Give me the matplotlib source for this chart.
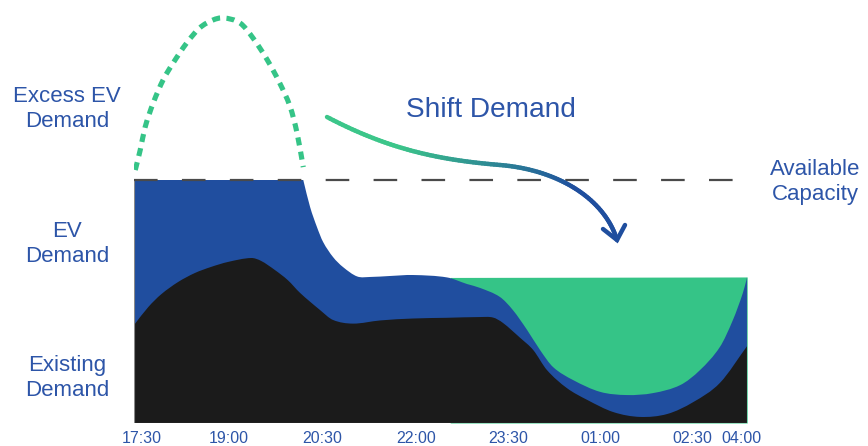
import numpy as np
import matplotlib
matplotlib.use("Agg")
import matplotlib.pyplot as plt
from matplotlib.collections import LineCollection
from matplotlib.colors import to_rgb
from matplotlib.path import Path
from matplotlib.patches import PathPatch

plt.rcParams['font.family'] = ['Liberation Sans', 'DejaVu Sans']
plt.rcParams['lines.scale_dashes'] = False

# ---- data (hours since 17:30, demand in % of available capacity) ----
exist_t = [0.0, 0.23, 0.44, 0.71, 0.98, 1.24, 1.52, 1.89, 2.05, 2.27, 2.48, 2.68, 3.00, 3.21,
           3.53, 3.97, 4.50, 5.05, 5.58, 5.79, 5.95, 6.23, 6.44, 6.66, 6.98, 7.31, 7.73, 8.16,
           8.60, 9.02, 9.45, 9.89]
exist_v = [40.3, 47.7, 53.0, 58.0, 61.7, 64.2, 66.3, 67.9, 66.7, 63.0, 58.8, 53.5, 46.5, 42.4,
           40.9, 42.2, 43.0, 43.3, 43.6, 43.4, 41.2, 35.0, 30.0, 21.8, 14.4, 9.5, 4.5, 2.5,
           3.7, 8.6, 16.5, 31.7]

ev_t = [0.0, 2.73, 2.84, 2.95, 3.05, 3.21, 3.37, 3.60, 3.81, 4.13, 4.50, 5.05, 5.37, 5.58, 5.90,
        6.11, 6.34, 6.55, 6.76, 7.08, 7.52, 7.95, 8.37, 8.81, 9.13, 9.45, 9.66, 9.82, 9.89]
ev_v = [100.0, 100.0, 88.9, 80.7, 74.5, 68.3, 64.2, 60.3, 60.1, 60.5, 60.9, 59.9, 57.2, 55.6, 51.9,
        46.5, 38.3, 30.0, 23.0, 17.7, 12.8, 11.5, 12.3, 15.6, 21.8, 31.3, 42.4, 53.5, 60.1]

shift_t = [5.10, 9.89]
shift_v = [59.9, 60.1]

excess_t = [0.02, 0.10, 0.18, 0.31, 0.47, 0.63, 0.85, 1.06, 1.27, 1.44, 1.71, 1.92, 2.15, 2.35,
            2.52, 2.63, 2.73]
excess_v = [104.1, 112.3, 121.8, 131.7, 141.2, 148.1, 156.4, 162.6, 165.8, 166.7, 164.6, 158.4,
            149.4, 139.9, 130.0, 119.3, 105.3]

capacity = 100.0
tick_pos = [0.13, 1.53, 3.03, 4.55, 6.03, 7.52, 9.0, 9.79]
tick_labels = ["17:30", "19:00", "20:30", "22:00", "23:30", "01:00", "02:30", "04:00"]

BLUE = "#204e9f"
GREEN = "#35c487"
BLACK = "#1b1b1b"
TEXT = "#2d55a8"
W, H = 868, 446
XMAX = 9.887


def slopes(x, y):
    x = np.asarray(x, float); y = np.asarray(y, float)
    d = np.diff(y) / np.diff(x)
    m = np.zeros(len(x))
    m[1:-1] = (y[2:] - y[:-2]) / (x[2:] - x[:-2])
    m[0] = d[0]; m[-1] = d[-1]
    return m


def smooth_segments(x, y, breaks=()):
    """Bezier vertices/codes (without initial MOVETO) through the points."""
    verts, codes = [], []
    idx = [0] + list(breaks) + [len(x) - 1]
    for a, b in zip(idx[:-1], idx[1:]):
        xs = np.asarray(x[a:b + 1], float); ys = np.asarray(y[a:b + 1], float)
        if len(xs) == 2:
            verts.append((xs[1], ys[1])); codes.append(Path.LINETO); continue
        m = slopes(xs, ys)
        for i in range(len(xs) - 1):
            h = xs[i + 1] - xs[i]
            verts += [(xs[i] + h / 3, ys[i] + m[i] * h / 3),
                      (xs[i + 1] - h / 3, ys[i + 1] - m[i + 1] * h / 3),
                      (xs[i + 1], ys[i + 1])]
            codes += [Path.CURVE4] * 3
    return verts, codes


def smooth_fill(ax, x, y, color, z, breaks=()):
    v, c = smooth_segments(x, y, breaks)
    verts = [(x[0], 0), (x[0], y[0])] + v + [(x[-1], 0), (x[0], 0)]
    codes = [Path.MOVETO, Path.LINETO] + c + [Path.LINETO, Path.CLOSEPOLY]
    ax.add_patch(PathPatch(Path(verts, codes), facecolor=color, edgecolor="none", lw=0, zorder=z))


fig = plt.figure(figsize=(W / 100, H / 100), dpi=100)
ax = fig.add_axes([134 / W, (H - 423) / H, (747 - 134) / W, 423 / H])
ax.set_xlim(0, XMAX)
ax.set_ylim(0, 423 / 2.43)

ax.fill_between(shift_t, 0, shift_v, color=GREEN, lw=0, zorder=1)
smooth_fill(ax, ev_t, ev_v, BLUE, 2, breaks=(1,))
smooth_fill(ax, exist_t, exist_v, BLACK, 3)

# thin gray edges
edge_kw = dict(color="#8a8a8a", lw=0.8, zorder=4, solid_capstyle="butt")
ax.plot([0, 0], [0, capacity], **edge_kw)
ax.plot([0, XMAX], [0, 0], **edge_kw)
ax.plot([XMAX, XMAX], [0, shift_v[-1]], **edge_kw)

# capacity line
ax.plot([0, XMAX], [capacity, capacity], color="#4a4a4a", lw=1.6,
        dashes=(17, 17.5), dash_capstyle="butt", zorder=5)

# excess EV demand (dotted)
v, c = smooth_segments(excess_t, excess_v)
ex_path = Path([(excess_t[0], excess_v[0])] + v, [Path.MOVETO] + c)
ax.add_patch(PathPatch(ex_path, fill=False, edgecolor=GREEN, lw=3.7,
                       linestyle=(0, (5.8, 4.6)), capstyle="butt", zorder=5))

for s in ax.spines.values():
    s.set_visible(False)
ax.set_yticks([])
ax.set_xticks(tick_pos)
ax.set_xticklabels(tick_labels)
ax.tick_params(axis="x", length=0, pad=6, labelsize=11.5, labelcolor=TEXT)

# overlay for annotations in pixel coords
ov = fig.add_axes([0, 0, 1, 1], facecolor="none")
ov.set_xlim(0, W)
ov.set_ylim(H, 0)
ov.axis("off")


def bez(p0, p1, p2, p3, n=60):
    t = np.linspace(0, 1, n)[:, None]
    p0, p1, p2, p3 = map(np.array, (p0, p1, p2, p3))
    return ((1 - t) ** 3) * p0 + 3 * ((1 - t) ** 2) * t * p1 + 3 * (1 - t) * t ** 2 * p2 + t ** 3 * p3


pts = np.vstack([bez((327, 117), (390, 150), (440, 160), (500, 165)),
                 bez((500, 165), (560, 170), (605, 200), (617, 240))[1:]])
segs = np.stack([pts[:-1], pts[1:]], axis=1)
c0 = np.array(to_rgb("#3cc68a"))
c1 = np.array(to_rgb("#1f4e9e"))
frac = np.linspace(0, 1, len(segs))
fr = np.clip((frac - 0.2) / 0.55, 0, 1)[:, None]
cols = c0 * (1 - fr) + c1 * fr
lc = LineCollection(segs, colors=cols, linewidths=3.2, capstyle="round")
ov.add_collection(lc)
ov.plot([603, 617, 625], [229, 240, 225], color="#1f4e9e", lw=3.2,
        solid_capstyle="round", solid_joinstyle="miter")

txt_kw = dict(color=TEXT, ha="center", va="center", linespacing=1.3)


def ftext(x, y, s, size):
    fig.text(x / W, 1 - y / H, s, fontsize=size, **txt_kw)


ftext(67, 109, "Excess EV\nDemand", 16)
ftext(67, 244, "EV\nDemand", 16)
ftext(67, 378, "Existing\nDemand", 16)
ftext(815, 182, "Available\nCapacity", 16)
ftext(491, 110, "Shift Demand", 20.2)

fig.savefig("out.png", dpi=100)
